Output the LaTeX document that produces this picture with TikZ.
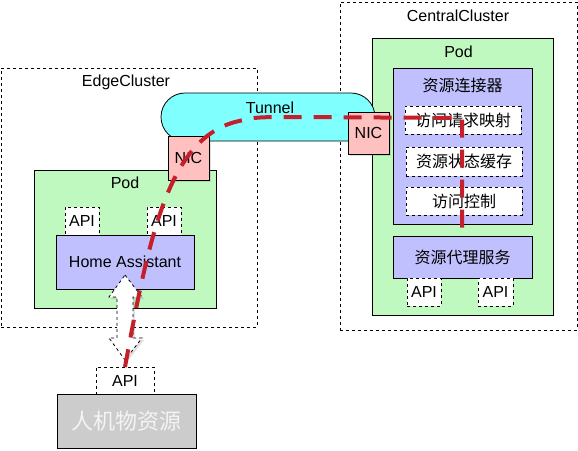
\documentclass[tikz,border=0pt]{standalone}
\usepackage{fontspec}
\setmainfont{Liberation Sans}
\newfontfamily\cjk{Noto Sans CJK SC}
\usetikzlibrary{shadows}
\definecolor{podgreen}{HTML}{C0F9C0}
\definecolor{svcblue}{HTML}{C0C0FF}
\definecolor{tunnelcyan}{HTML}{80FFFF}
\definecolor{nicpink}{HTML}{FFC0C0}
\definecolor{resgray}{HTML}{CCCCCC}
\definecolor{restext}{HTML}{F4F4F4}
\definecolor{pathred}{HTML}{C41F2B}
\begin{document}
\begin{tikzpicture}[x=1pt,y=-1pt,
  font=\fontsize{16}{19}\selectfont,
  cluster/.style={draw=black, line width=0.8pt, dash pattern=on 3pt off 3pt, fill=white, inner sep=0pt},
  pod/.style={draw=black, line width=1pt, fill=podgreen, inner sep=0pt},
  svc/.style={draw=black, line width=1pt, fill=svcblue, inner sep=0pt},
  apibox/.style={draw=black, line width=0.8pt, dash pattern=on 3pt off 3pt, fill=white, inner sep=0pt},
  nic/.style={draw=black, line width=1pt, fill=nicpink, inner sep=0pt,
    drop shadow={shadow xshift=2pt, shadow yshift=-2pt, opacity=0.25}},
  tunnelbox/.style={draw=black, line width=0.8pt, fill=tunnelcyan, rounded corners=24pt, inner sep=0pt},
  cjktext/.style={font=\cjk\fontsize{16}{19}\selectfont},
  redpath/.style={draw=pathred, line width=4pt, dash pattern=on 18pt off 12pt}
]
\useasboundingbox (0,0) rectangle (578,450);
\fill[white] (0,0) rectangle (578,450);

% clusters
\node[cluster, minimum width=256pt, minimum height=259pt] (edge) at (129,197.5) {};
\node (edgelbl) at (126,82) {EdgeCluster};
\node[cluster, minimum width=237pt, minimum height=328pt] (central) at (458.5,166) {};
\node (centrallbl) at (458,16) {CentralCluster};

% edge pod
\node[pod, minimum width=182pt, minimum height=138pt] (epod) at (125,239) {};
\node (epodlbl) at (125,183) {Pod};
\node[apibox, minimum width=34pt, minimum height=28pt] (eapi1) at (82,221) {API};
\node[apibox, minimum width=34pt, minimum height=28pt] (eapi2) at (164,221) {API};
\node[svc, minimum width=138pt, minimum height=54pt] (ha) at (125,262) {Home Assistant};

% central pod
\node[pod, minimum width=181pt, minimum height=277pt] (cpod) at (462.5,176.5) {};
\node (cpodlbl) at (458.5,52) {Pod};
\node[svc, minimum width=139pt, minimum height=156pt] (conn) at (462.5,146) {};
\node[cjktext] (connlbl) at (462.5,85) {资源连接器};
\node[apibox, cjktext, minimum width=116pt, minimum height=28pt] (map) at (463,120) {访问请求映射};
\node[apibox, cjktext, minimum width=116pt, minimum height=29pt] (cache) at (464,161.5) {资源状态缓存};
\node[apibox, cjktext, minimum width=116pt, minimum height=28pt] (acl) at (464,201) {访问控制};
\node[svc, cjktext, minimum width=139pt, minimum height=42pt] (proxy) at (462.5,257) {资源代理服务};
\node[apibox, minimum width=34pt, minimum height=28pt] (capi1) at (424,292) {API};
\node[apibox, minimum width=35pt, minimum height=28pt] (capi2) at (495.5,292) {API};

% tunnel and NICs
\node[tunnelbox, minimum width=214pt, minimum height=48pt] (tunnel) at (268,117) {};
\node (tunnellbl) at (270,108) {Tunnel};
\node[nic, minimum width=41pt, minimum height=44pt] (enic) at (188.5,158) {NIC};
\node[nic, minimum width=41pt, minimum height=42pt] (cnic) at (368.5,133) {NIC};

% resources
\node[apibox, minimum width=58pt, minimum height=27pt] (rapi) at (125,380.5) {API};
\node[draw=black, line width=1pt, fill=resgray, inner sep=0pt, minimum width=139pt, minimum height=54pt,
  font=\cjk\fontsize{22}{26}\selectfont, text=restext] (res) at (126.5,421) {人机物资源};

% double arrow between Home Assistant and the resource API
\coordinate (atop) at (125,275);
\coordinate (abot) at (125,360);
\draw[line width=0.8pt, dash pattern=on 3pt off 3pt, fill=white,
  drop shadow={shadow xshift=2pt, shadow yshift=-2pt, opacity=0.25}]
  (atop) -- ++(17,22) -- ++(-9,0) -- ++(0,41) -- ++(9,0) -- (abot)
  -- ++(-16,-22) -- ++(8,0) -- ++(0,-41) -- ++(-8,0) -- cycle;

% red access path
\coordinate (p0) at (125,367);
\coordinate (p1) at (235,122);
\coordinate (p2) at (300,117);
\coordinate (pcorner) at (462,118);
\coordinate (pend) at (462,237);
\draw[redpath] (p0) .. controls (150,230) and (170,140) .. (p1)
  .. controls (255,117) .. (p2) -- (pcorner) -- (pend);
\end{tikzpicture}
\end{document}
